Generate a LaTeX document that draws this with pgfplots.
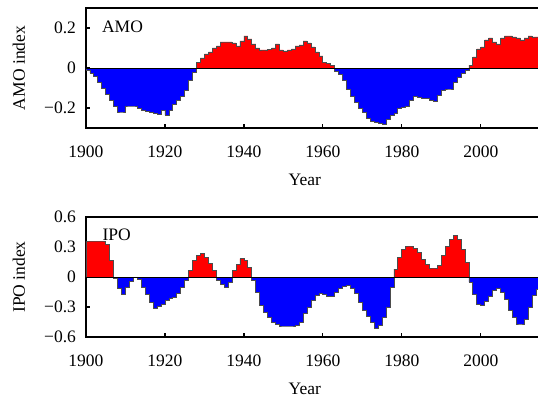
\documentclass[border=0pt]{standalone}
\usepackage{fontspec}
\setmainfont{Liberation Serif}
\usepackage{pgfplots}
\usepackage{pgfplotstable}
\pgfplotsset{compat=1.18}

\pgfplotstableread{
year amo ipo
1900 -0.010 0.36
1901 -0.025 0.36
1902 -0.040 0.36
1903 -0.070 0.36
1904 -0.100 0.36
1905 -0.130 0.33
1906 -0.160 0.17
1907 -0.190 -0.01
1908 -0.220 -0.11
1909 -0.220 -0.17
1910 -0.190 -0.10
1911 -0.190 -0.045
1912 -0.190 0.0
1913 -0.200 -0.02
1914 -0.210 -0.10
1915 -0.215 -0.17
1916 -0.220 -0.25
1917 -0.225 -0.31
1918 -0.230 -0.29
1919 -0.210 -0.27
1920 -0.235 -0.235
1921 -0.210 -0.215
1922 -0.180 -0.20
1923 -0.160 -0.165
1924 -0.140 -0.10
1925 -0.110 -0.035
1926 -0.060 0.07
1927 -0.020 0.165
1928 0.030 0.215
1929 0.050 0.235
1930 0.070 0.20
1931 0.080 0.135
1932 0.100 0.065
1933 0.110 -0.035
1934 0.130 -0.075
1935 0.130 -0.10
1936 0.130 -0.055
1937 0.125 0.065
1938 0.110 0.13
1939 0.135 0.185
1940 0.160 0.17
1941 0.145 0.10
1942 0.120 -0.03
1943 0.100 -0.15
1944 0.090 -0.28
1945 0.090 -0.35
1946 0.093 -0.40
1947 0.100 -0.45
1948 0.120 -0.47
1949 0.090 -0.49
1950 0.085 -0.49
1951 0.090 -0.49
1952 0.095 -0.49
1953 0.110 -0.48
1954 0.115 -0.45
1955 0.135 -0.36
1956 0.125 -0.30
1957 0.105 -0.235
1958 0.080 -0.185
1959 0.060 -0.165
1960 0.030 -0.175
1961 0.025 -0.19
1962 0.012 -0.195
1963 -0.015 -0.15
1964 -0.030 -0.115
1965 -0.060 -0.09
1966 -0.105 -0.08
1967 -0.140 -0.115
1968 -0.170 -0.165
1969 -0.200 -0.25
1970 -0.220 -0.33
1971 -0.250 -0.39
1972 -0.265 -0.45
1973 -0.270 -0.51
1974 -0.275 -0.48
1975 -0.280 -0.40
1976 -0.255 -0.30
1977 -0.235 -0.10
1978 -0.225 0.08
1979 -0.200 0.20
1980 -0.195 0.28
1981 -0.190 0.31
1982 -0.160 0.31
1983 -0.143 0.29
1984 -0.145 0.25
1985 -0.150 0.18
1986 -0.152 0.13
1987 -0.160 0.09
1988 -0.165 0.09
1989 -0.138 0.12
1990 -0.110 0.22
1991 -0.105 0.31
1992 -0.105 0.38
1993 -0.070 0.42
1994 -0.045 0.38
1995 -0.025 0.28
1996 -0.010 0.15
1997 0.015 -0.05
1998 0.055 -0.17
1999 0.095 -0.27
2000 0.105 -0.28
2001 0.140 -0.24
2002 0.150 -0.19
2003 0.130 -0.13
2004 0.120 -0.11
2005 0.150 -0.15
2006 0.160 -0.22
2007 0.160 -0.33
2008 0.155 -0.40
2009 0.150 -0.47
2010 0.140 -0.47
2011 0.150 -0.42
2012 0.160 -0.30
2013 0.155 -0.18
2014 0.155 -0.12
2015 0.155 -0.12
}\data

\pgfplotsset{
  panel/.style={
    scale only axis,
    width=227pt, height=60pt,
    xmin=1900, xmax=2015,
    axis line style={line width=0.6pt},
    xtick={1900,1920,1940,1960,1980,2000},
    xticklabels={1900,1920,1940,1960,1980,2000},
    xtick pos=bottom, ytick pos=left,
    tick align=inside,
    major tick length=2pt,
    tick style={line width=0.6pt, black},
    tick label style={font=\fontsize{8.75}{10}\selectfont},
    label style={font=\fontsize{8.75}{10}\selectfont},
    xlabel={Year},
    xlabel style={at={(axis description cs:0.482,0)}, anchor=center, yshift=-26pt},
    ylabel style={at={(axis description cs:0,0.5)}, anchor=center, rotate=0, yshift=33.5pt},
    xticklabel style={anchor=center, yshift=-12pt},
    yticklabel style={xshift=-1.5pt},
    clip=true,
  },
}

\begin{document}
\begin{tikzpicture}
\begin{axis}[panel,
  ymin=-0.3, ymax=0.3,
  ytick={-0.2,0,0.2},
  yticklabels={−0.2,0,0.2},
  ylabel={AMO index},
]
\addplot[const plot, fill=red, draw=black!70, line width=0.4pt]
  table[x=year, y expr={max(\thisrow{amo},0)}] {\data} \closedcycle;
\addplot[const plot, fill=blue, draw=black!70, line width=0.4pt]
  table[x=year, y expr={min(\thisrow{amo},0)}] {\data} \closedcycle;
\draw[black, line width=0.5pt] (axis cs:1900,0) -- (axis cs:2015,0);
\node[anchor=base west, font=\fontsize{8.75}{10}\selectfont]
  at ([xshift=4.5pt,yshift=-12.5pt]rel axis cs:0,1) {AMO};
\end{axis}

\begin{axis}[panel, at={(0,-104.5pt)},
  ymin=-0.6, ymax=0.6,
  ytick={-0.6,-0.3,0,0.3,0.6},
  yticklabels={−0.6,−0.3,0,0.3,0.6},
  ylabel={IPO index},
]
\addplot[const plot, fill=red, draw=black!70, line width=0.4pt]
  table[x=year, y expr={max(\thisrow{ipo},0)}] {\data} \closedcycle;
\addplot[const plot, fill=blue, draw=black!70, line width=0.4pt]
  table[x=year, y expr={min(\thisrow{ipo},0)}] {\data} \closedcycle;
\draw[black, line width=0.5pt] (axis cs:1900,0) -- (axis cs:2015,0);
\node[anchor=base west, font=\fontsize{8.75}{10}\selectfont]
  at ([xshift=4.8pt,yshift=-11.7pt]rel axis cs:0,1) {IPO};
\end{axis}
\pgfresetboundingbox
\path (-43pt,-135pt) rectangle (226pt,64pt);
\end{tikzpicture}
\end{document}
